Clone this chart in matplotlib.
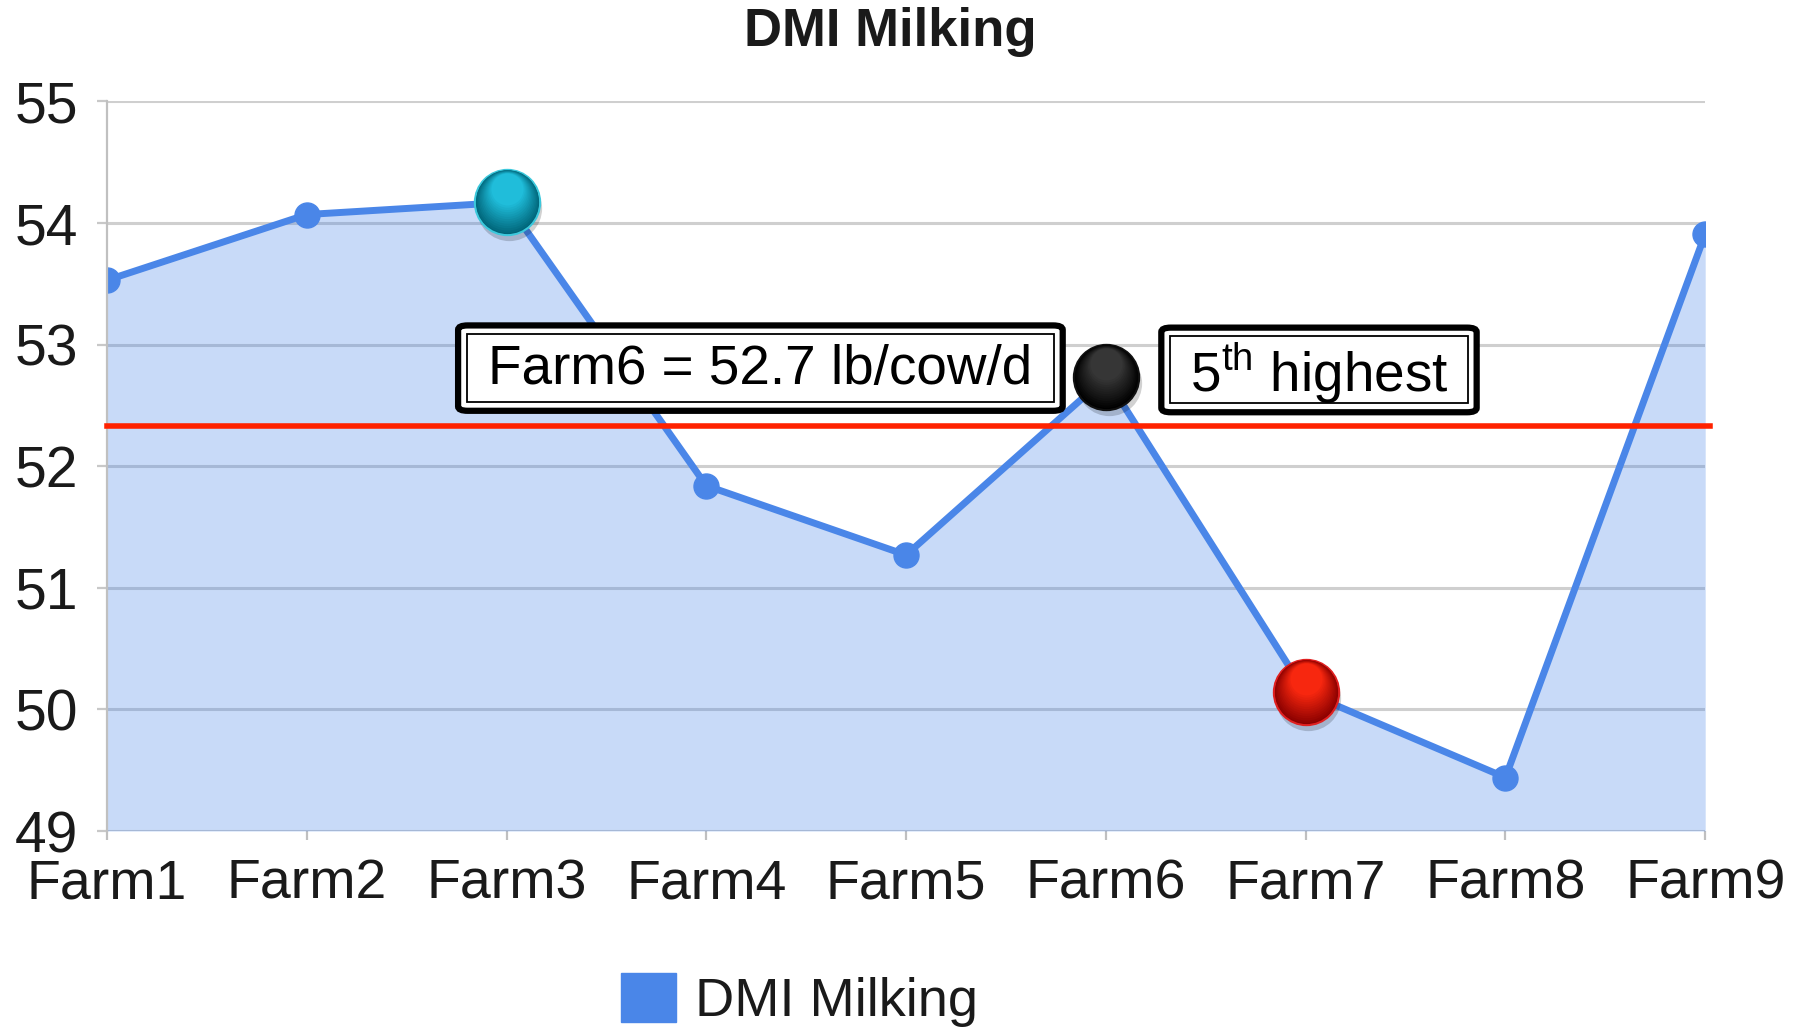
import matplotlib
matplotlib.use('Agg')
import matplotlib.pyplot as plt
import matplotlib.transforms as mtransforms
from matplotlib.patches import Rectangle, FancyBboxPatch, Patch
import numpy as np

plt.rcParams['font.family'] = ['Liberation Sans', 'DejaVu Sans']
plt.rcParams['mathtext.fontset'] = 'custom'
plt.rcParams['mathtext.rm'] = 'Liberation Sans'

farms = ['Farm1', 'Farm2', 'Farm3', 'Farm4', 'Farm5', 'Farm6', 'Farm7', 'Farm8', 'Farm9']
dmi = [53.53, 54.07, 54.17, 51.84, 51.27, 52.73, 50.14, 49.44, 53.91]
avg_dmi = 52.33
y_ticks = [49, 50, 51, 52, 53, 54, 55]

# balls drawn on top of these farms: (farm, dark colour, light colour, edge)
balls = [('Farm3', '#006478', '#22c4e2', '#3cc8dc'),
         ('Farm6', '#000000', '#3a3a3a', '#111111'),
         ('Farm7', '#8a0000', '#ff2a10', '#e02020')]

value_text = 'Farm6 = 52.7 lb/cow/d'
rank_text = r'5$^{\rm th}$ highest'

blue = '#4a86e8'

fig = plt.figure(figsize=(18.1, 10.29), dpi=100)
ax = fig.add_axes([0.0591, 0.1924, 0.883, 0.709])

x = np.arange(len(farms))
ax.fill_between(x, dmi, y_ticks[0], color=blue, alpha=0.3, lw=0, zorder=1)
ax.plot(x, dmi, color=blue, lw=5, marker='o', ms=18, zorder=2)

ax.axhline(avg_dmi, xmin=0, xmax=1.003, color='#ff2200', lw=4, zorder=4, clip_on=False)

ax.set_xlim(0, len(farms) - 1)
ax.set_ylim(y_ticks[0], y_ticks[-1])
ax.set_xticks(x)
ax.set_xticklabels(farms)
ax.set_yticks(y_ticks)
ax.grid(axis='y', color='#cfcfcf', lw=2.2, zorder=0.5)
ax.set_axisbelow(True)
for s in ['top', 'right', 'bottom']:
    ax.spines[s].set_visible(False)
ax.spines['left'].set_color('#c0c0c0')
ax.spines['left'].set_linewidth(1.6)
ax.tick_params(axis='x', labelsize=40, colors='#c0c0c0', labelcolor='#1a1a1a',
               length=6.5, width=1.6, pad=13)
ax.tick_params(axis='y', labelsize=41, colors='#c8c8c8', labelcolor='#1a1a1a',
               length=7, width=1.6, pad=14)


def ball(name, dark, light, edge, size=47):
    i = farms.index(name)
    xv, yv = x[i], dmi[i]
    sh = mtransforms.offset_copy(ax.transData, fig=fig, x=2, y=-4, units='points')
    ax.plot(xv, yv, 'o', ms=size, color='#000000', alpha=0.18, mew=0,
            transform=sh, zorder=6)
    ax.plot(xv, yv, 'o', ms=size, mfc=dark, mec=edge, mew=1.5, zorder=6)
    n = 14
    d = np.array(matplotlib.colors.to_rgb(dark))
    l = np.array(matplotlib.colors.to_rgb(light))
    for k in range(1, n):
        t = k / n
        tr = mtransforms.offset_copy(ax.transData, fig=fig, x=0,
                                     y=size * 0.22 * t, units='points')
        ax.plot(xv, yv, 'o', ms=size * (1 - 0.55 * t), mew=0,
                color=d + (l - d) * t, transform=tr, zorder=6)


for b in balls:
    ball(*b)


def box(x0, y0, x1, y1, text):
    outer = FancyBboxPatch((x0, y0), x1 - x0, y1 - y0,
                           boxstyle='round,pad=0,rounding_size=0.006',
                           transform=ax.transAxes, fc='white', ec='black',
                           lw=4.5, zorder=5, clip_on=False)
    ax.add_patch(outer)
    dx, dy = 0.0055, 0.012
    inner = Rectangle((x0 + dx, y0 + dy), x1 - x0 - 2 * dx, y1 - y0 - 2 * dy,
                      transform=ax.transAxes, fc='none', ec='black', lw=1.3,
                      zorder=5, clip_on=False)
    ax.add_patch(inner)
    ax.text((x0 + x1) / 2, (y0 + y1) / 2 - 0.003, text, transform=ax.transAxes,
            ha='center', va='center', fontsize=39.5, color='black', zorder=5)


box(0.2197, 0.576, 0.598, 0.693, value_text)
box(0.6597, 0.574, 0.857, 0.690, rank_text)

fig.text(0.4917, 0.969, 'DMI Milking', ha='center', va='center',
         fontsize=38, fontweight='bold', color='#1a1a1a')

fig.legend(handles=[Patch(color=blue, label='DMI Milking')], loc='center',
           bbox_to_anchor=(0.4417, 0.028), frameon=False, fontsize=39,
           handlelength=1.0, handleheight=1.0, handletextpad=0.35,
           labelcolor='#1a1a1a')

fig.savefig('out.png', dpi=100)
